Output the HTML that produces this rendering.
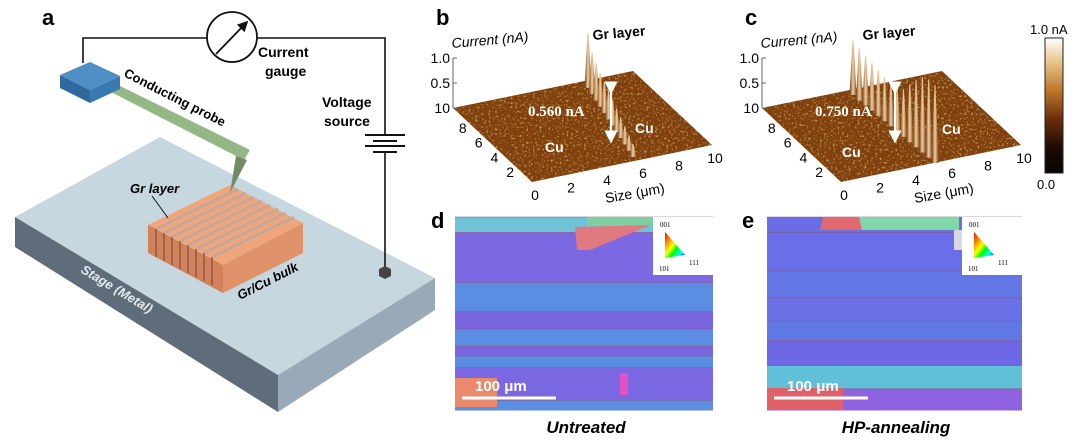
<!DOCTYPE html>
<html><head><meta charset="utf-8">
<style>
html,body{margin:0;padding:0;background:#fff;}
svg{display:block;font-family:"Liberation Sans",Arial,sans-serif;}
</style></head>
<body>
<svg width="1080" height="442" viewBox="0 0 1080 442">
<defs>
  <filter id="afm" x="0" y="0" width="100%" height="100%">
    <feTurbulence type="fractalNoise" baseFrequency="0.45" numOctaves="2" seed="4" result="n"/>
    <feColorMatrix in="n" type="matrix" values="0 0 0 0 0.82  0 0 0 0 0.5  0 0 0 0 0.14  0 0 0 2.4 -1.35" result="spots"/>
    <feComposite in="spots" in2="SourceGraphic" operator="in" result="s2"/>
    <feMerge><feMergeNode in="SourceGraphic"/><feMergeNode in="s2"/></feMerge>
  </filter>
  <linearGradient id="cbar" x1="0" y1="1" x2="0" y2="0">
    <stop offset="0" stop-color="#0a0504"/><stop offset="0.18" stop-color="#1a0a05"/>
    <stop offset="0.4" stop-color="#6b2e0c"/><stop offset="0.62" stop-color="#c07a2c"/>
    <stop offset="0.82" stop-color="#e8c48a"/><stop offset="1" stop-color="#ffffff"/>
  </linearGradient>
  <linearGradient id="tri" x1="0" y1="0" x2="1" y2="1">
    <stop offset="0" stop-color="#f00"/><stop offset="0.45" stop-color="#ff0"/><stop offset="0.6" stop-color="#0f0"/><stop offset="0.8" stop-color="#0ff"/><stop offset="1" stop-color="#00f"/>
  </linearGradient>
  <linearGradient id="spike" x1="0" y1="0" x2="1" y2="0">
    <stop offset="0" stop-color="#6a3010"/><stop offset="0.5" stop-color="#f0d0a0"/><stop offset="1" stop-color="#8a4818"/>
  </linearGradient>
  <marker id="ah" markerWidth="6" markerHeight="6" refX="3" refY="3" orient="auto"><path d="M0,0 L6,3 L0,6 z" fill="#fff"/></marker>
  <marker id="gah" markerWidth="6" markerHeight="6" refX="5" refY="3" orient="auto"><path d="M0,0 L6,3 L0,6 z" fill="#111"/></marker>
</defs>

<!-- ===== Panel a ===== -->
<g>
  <text x="42" y="25" font-size="22" font-weight="bold">a</text>
  <polygon points="15,217 160,137 435,278 278,375" fill="#c6d7e0"/>
  <polygon points="15,217 278,375 278,412 15,247" fill="#5f6d7a"/>
  <polygon points="278,375 435,278 435,310 278,412" fill="#98a9b8"/>
  <text transform="translate(80,272) rotate(31)" font-size="13" font-style="italic" font-weight="bold" fill="#e4eaef">Stage (Metal)</text>
  <polygon points="148,225 230,185 303,223 223,265" fill="#f0a57a"/>
  <g stroke="#b7a9a4" stroke-width="2.2">
    <line x1="156" y1="229" x2="238" y2="189"/><line x1="164" y1="233" x2="246" y2="193"/>
    <line x1="172" y1="237" x2="254" y2="197"/><line x1="180" y1="241" x2="262" y2="201"/>
    <line x1="188" y1="245" x2="270" y2="205"/><line x1="196" y1="249" x2="278" y2="209"/>
    <line x1="204" y1="253" x2="286" y2="213"/><line x1="212" y1="257" x2="294" y2="217"/>
  </g>
  <polygon points="148,225 223,265 223,293 148,253" fill="#d28158"/>
  <g stroke="#8a5a48" stroke-width="1.5">
    <line x1="156" y1="229" x2="156" y2="257"/><line x1="164" y1="233" x2="164" y2="261"/>
    <line x1="172" y1="237" x2="172" y2="265"/><line x1="180" y1="241" x2="180" y2="269"/>
    <line x1="188" y1="245" x2="188" y2="273"/><line x1="196" y1="249" x2="196" y2="277"/>
    <line x1="204" y1="253" x2="204" y2="281"/><line x1="212" y1="257" x2="212" y2="285"/>
  </g>
  <polygon points="223,265 303,223 303,253 223,293" fill="#e0926a"/>
  <text x="130" y="193" font-size="13" font-style="italic" font-weight="bold">Gr layer</text>
  <line x1="152" y1="196" x2="168" y2="218" stroke="#111" stroke-width="1"/>
  <text transform="translate(240,300) rotate(-27)" font-size="13" font-style="italic" font-weight="bold">Gr/Cu bulk</text>
  <polyline points="83,63 83,38 207,38" fill="none" stroke="#111" stroke-width="1.6"/>
  <polyline points="257,38 385,38 385,134" fill="none" stroke="#111" stroke-width="1.6"/>
  <line x1="385" y1="152" x2="385" y2="267" stroke="#111" stroke-width="1.6"/>
  <line x1="365" y1="135" x2="405" y2="135" stroke="#111" stroke-width="2"/>
  <line x1="373" y1="141" x2="397" y2="141" stroke="#111" stroke-width="2"/>
  <line x1="365" y1="146" x2="405" y2="146" stroke="#111" stroke-width="2"/>
  <line x1="373" y1="152" x2="397" y2="152" stroke="#111" stroke-width="2"/>
  <polygon points="385,266 391,269 391,276 385,279 379,276 379,269" fill="#444"/>
  <circle cx="232" cy="37" r="25" fill="#fff" stroke="#111" stroke-width="1.8"/>
  <line x1="216" y1="54" x2="247" y2="22" stroke="#111" stroke-width="1.8" marker-end="url(#gah)"/>
  <text x="258" y="57" font-size="14" font-weight="bold">Current</text>
  <text x="265" y="76" font-size="14" font-weight="bold">gauge</text>
  <text x="322" y="107" font-size="14" font-weight="bold">Voltage</text>
  <text x="324" y="126" font-size="14" font-weight="bold">source</text>
  <polygon points="103,88 112,82 250,150 244,160" fill="#93b885"/>
  <polygon points="236,156 247,160 230,193" fill="#6f8c66"/>
  <polygon points="60,75 90,62 120,76 90,90" fill="#4f8fc6"/>
  <polygon points="60,75 90,90 90,103 60,88" fill="#2e6a9e"/>
  <polygon points="90,90 120,76 120,89 90,103" fill="#3a79b0"/>
  <text transform="translate(123,76) rotate(27)" font-size="13" font-weight="bold">Conducting probe</text>
</g>

<g id="afmB"></g>
<g id="afmC"></g>

<g>
  <rect x="1045" y="38" width="18" height="135" fill="url(#cbar)" stroke="#222" stroke-width="1"/>
  <text x="1030" y="34" font-size="13">1.0 nA</text>
  <text x="1037" y="189" font-size="13">0.0</text>
</g>

<g id="ebsdD"></g>
<g id="ebsdE"></g>
<text x="431" y="228" font-size="22" font-weight="bold">d</text>
<text x="742" y="228" font-size="22" font-weight="bold">e</text>
<text x="586" y="433" font-size="17" font-weight="bold" font-style="italic" text-anchor="middle">Untreated</text>
<text x="896" y="433" font-size="17" font-weight="bold" font-style="italic" text-anchor="middle">HP-annealing</text>
</svg>

<script>
const NS='http://www.w3.org/2000/svg';
function mk(tag,attrs,parent){const e=document.createElementNS(NS,tag);for(const k in attrs)e.setAttribute(k,attrs[k]);parent.appendChild(e);return e;}

// AFM data
const zTicks=['1.0','0.5','10'];
const depthTicks=['8','6','4','2'];
const sizeTicks=['0','2','4','6','8','10'];
const peaksB=[1.05,0.8,0.72,0.65,0.6,0.55,0.5,0.45,0.4,0.35,0.3,0.25];
const peaksC=[1.05,1.0,0.95,0.92,0.88,0.85,0.82,0.8,0.9,1.1,1.3,1.45,1.5,1.5];
const labelB='0.560 nA', labelC='0.750 nA';

function afm(g,dx,letter,peaks,ridge,lbl,grX,arrowX,lblX,cuPos){
  const L=[453+dx,108],F=[532+dx,182],R=[712+dx,145],B=[633+dx,71];
  let t=mk('text',{x:436+dx,y:25,'font-size':22,'font-weight':'bold'},g);t.textContent=letter;
  
  
  const pl=mk('polygon',{points:[L,F,R,B].map(p=>p.join(',')).join(' '),fill:'#80400f',filter:'url(#afm)'},g);
  
  
  mk('line',{x1:L[0],y1:58,x2:L[0],y2:108,stroke:'#666','stroke-width':1},g);
  zTicks.forEach((s,i)=>{const y=58+i*25;
    const tx=mk('text',{x:L[0]-3,y:y+5,'font-size':14,'text-anchor':'end'},g);tx.textContent=s;
    
    
    mk('line',{x1:L[0],y1:y,x2:L[0]+4,y2:y,stroke:'#666'},g);});
  depthTicks.forEach((s,i)=>{const f=0.2*(i+1);
    const x=L[0]+(F[0]-L[0])*f-6, y=L[1]+(F[1]-L[1])*f+10;
    const tx=mk('text',{x:x,y:y,'font-size':14,'text-anchor':'middle'},g);tx.textContent=s;
    
    });
  sizeTicks.forEach((s,i)=>{const f=i/5;
    const x=F[0]+(R[0]-F[0])*f+3, y=F[1]+(R[1]-F[1])*f+18;
    const tx=mk('text',{x:x,y:y,'font-size':14,'text-anchor':'middle'},g);tx.textContent=s;
    
    });
  let sz=mk('text',{transform:`translate(${606+dx},${203}) rotate(-10)`,'font-size':14},g);sz.textContent='Size (μm)';
  
  
  let cz=mk('text',{transform:`translate(${452+dx},${48}) rotate(-5)`,'font-size':14,'font-style':'italic'},g);cz.textContent='Current (nA)';
  
  
  let gr=mk('text',{transform:`translate(${grX},${40}) rotate(-5)`,'font-size':14,'font-weight':'bold'},g);gr.textContent='Gr layer';
  
  
  const [x0,y0,x1,y1]=ridge; const H=52;
  peaks.forEach((v,i)=>{const f=i/(peaks.length-1);
    const bx=x0+(x1-x0)*f, by=y0+(y1-y0)*f, top=by-v*H;
    const p=mk('polygon',{points:`${bx-3.5},${by} ${bx-0.5},${top} ${bx+0.5},${top} ${bx+3.5},${by}`,fill:'url(#spike)'},g);
    
    });
  mk('line',{x1:arrowX,y1:88,x2:arrowX,y2:137,stroke:'#fff','stroke-width':2.2,'marker-end':'url(#ah)','marker-start':'url(#ah)'},g);
  let lb=mk('text',{x:lblX,y:116,'font-size':15,'font-weight':'bold',fill:'#fff','font-family':'Liberation Serif,serif'},g);lb.textContent=lbl;
  
  
  cuPos.forEach(p=>{const c=mk('text',{x:p[0],y:p[1],'font-size':14,'font-weight':'bold',fill:'#fff'},g);c.textContent='Cu';
    
    });
}
afm(document.getElementById('afmB'),0,'b',peaksB,[588,88,633,157],labelB,593,611,528,[[545,152],[635,133]]);
afm(document.getElementById('afmC'),309,'c',peaksC,[853,95,935,163],labelC,863,895,815,[[842,157],[942,134]]);

// EBSD bands: [top fraction, height fraction, color]
const bandsD=[[0,0.08,'#6fc2d8'],[0.08,0.26,'#7b68e2'],[0.34,0.15,'#5b8ee2'],[0.49,0.09,'#7b66e2'],[0.58,0.09,'#5b8ee2'],[0.67,0.05,'#7b66e2'],[0.72,0.06,'#5b8ee2'],[0.78,0.17,'#7a68e2'],[0.95,0.05,'#5b8ee2']];
const bandsE=[[0,0.08,'#6a6ee6'],[0.08,0.2,'#6a6ee8'],[0.28,0.14,'#6476e6'],[0.42,0.12,'#6a70e6'],[0.54,0.1,'#5f78e4'],[0.64,0.13,'#6e68e4'],[0.77,0.12,'#5fc0d8'],[0.89,0.11,'#8e62e0']];
function ebsd(g,x,w,bands,extra){
  const y=217,h=193;
  bands.forEach(b=>{const r=mk('rect',{x:x,y:y+b[0]*h,width:w,height:b[1]*h+0.5,fill:b[2]},g);
    
    
    mk('line',{x1:x,y1:y+b[0]*h,x2:x+w,y2:y+b[0]*h,stroke:'#8a5a80','stroke-width':0.8,opacity:0.7},g);});
  extra(g,x,y);
  const ins=mk('rect',{x:x+w-60,y:y,width:60.5,height:58,fill:'#fff'},g);
  
  
  mk('polygon',{points:`${x+w-48},${y+15} ${x+w-48},${y+41} ${x+w-28},${y+38}`,fill:'url(#tri)'},g);
  [['001',x+w-53,y+10],['101',x+w-54,y+54],['111',x+w-24,y+48]].forEach(a=>{const t=mk('text',{x:a[1],y:a[2],'font-size':7,'font-family':'Liberation Serif,serif'},g);t.textContent=a[0];});
  const sb=mk('line',{x1:x+7,y1:y+h-12,x2:x+101,y2:y+h-12,stroke:'#fff','stroke-width':3},g);
  
  
  const st=mk('text',{x:x+20,y:y+h-19,'font-size':15,'font-weight':'bold',fill:'#fff'},g);st.textContent='100 μm';
  
  
}
ebsd(document.getElementById('ebsdD'),455,258,bandsD,(g,x,y)=>{
  mk('rect',{x:x+132,y:y,width:66,height:9,fill:'#7fd0a0'},g);
  mk('polygon',{points:`${x+120},${y+10} ${x+196},${y+8} ${x+135},${y+33} ${x+122},${y+33}`,fill:'#e07a80'},g);
  mk('rect',{x:x,y:y+161,width:42,height:29,fill:'#ea8a6a'},g);
  mk('rect',{x:x+165,y:y+156,width:8,height:22,fill:'#e050c0'},g);
});
ebsd(document.getElementById('ebsdE'),767,255,bandsE,(g,x,y)=>{
  mk('rect',{x:x+92,y:y,width:100,height:13,fill:'#80d8a8'},g);
  mk('polygon',{points:`${x+56},${y} ${x+92},${y} ${x+95},${y+13} ${x+53},${y+13}`,fill:'#e06a70'},g);
  mk('rect',{x:x,y:y+171,width:76,height:22,fill:'#e0606a'},g);
  mk('rect',{x:x+187,y:y+13,width:8,height:20,fill:'#d8d8e0'},g);
});
</script>
</body></html>
